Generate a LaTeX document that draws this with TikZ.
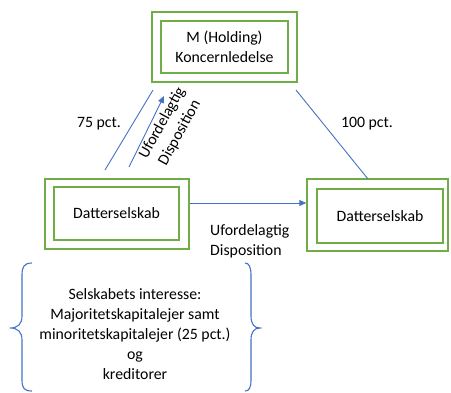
\documentclass[tikz,border=0pt]{standalone}
\usepackage{fontspec}
\setmainfont{Carlito}
\usetikzlibrary{arrows.meta}
\definecolor{boxgreen}{RGB}{112,173,71}
\definecolor{lineblue}{RGB}{68,114,196}
\tikzset{
  gbox/.style={draw=boxgreen, line width=1.4pt, inner sep=0pt, align=center},
  conn/.style={draw=lineblue, line width=0.9pt},
  arr/.style={conn, -{Triangle[length=7pt,width=6pt]}},
  lbl/.style={inner sep=0pt, align=center},
  bracestyle/.style={draw=lineblue, line width=1.1pt}
}
\begin{document}
\begin{tikzpicture}[x=1pt,y=-1pt,font=\fontsize{15.8}{20}\selectfont]
\useasboundingbox (0,0) rectangle (451,392);
% boxes
\node[gbox, minimum width=145pt, minimum height=70pt] (mo) at (224.5,47) {};
\node[gbox, minimum width=127pt, minimum height=52pt] (mi) at (224.5,47) {M (Holding)\\Koncernledelse};
\node[gbox, minimum width=144pt, minimum height=70pt] (lo) at (117,214) {};
\node[gbox, minimum width=125pt, minimum height=53pt] (li) at (116.5,213.5) {Datterselskab};
\node[gbox, minimum width=141pt, minimum height=72pt] (ro) at (377.5,215) {};
\node[gbox, minimum width=126pt, minimum height=54pt] (ri) at (380,216) {Datterselskab};
% connector end points
\coordinate (a1) at (105,170);
\coordinate (a2) at (153,90);
\coordinate (b1) at (129,167);
\coordinate (b2) at (164,96);
\coordinate (c1) at (296,90);
\coordinate (c2) at (368,179);
% connectors
\draw[conn] (a1) -- (a2);
\draw[arr] (b1) -- (b2);
\draw[conn] (c1) -- (c2);
\draw[arr] (lo.east |- 0,203) -- (ro.west |- 0,203);
% labels
\node[lbl] (p75) at (99,124) {75 pct.};
\node[lbl] (p100) at (367,124) {100 pct.};
\node[lbl, rotate=61] (ud1) at (171,128) {Ufordelagtig\\Disposition};
\node[lbl, align=left, anchor=west] (ud2) at (210,241) {Ufordelagtig\\Disposition};
% brace text
\node[lbl] (txt) at (135,334) {Selskabets interesse:\\Majoritetskapitalejer samt\\minoritetskapitalejer (25 pct.)\\og\\kreditorer};
% braces
\draw[bracestyle] (32,263) .. controls (24,263) and (22,267) .. (22,275)
  -- (22,316) .. controls (22,324) and (18,328) .. (10,328)
  .. controls (18,328) and (22,332) .. (22,340)
  -- (22,380) .. controls (22,388) and (24,391) .. (32,391);
\draw[bracestyle] (245,263) .. controls (249,263) and (251,267) .. (251,275)
  -- (251,316) .. controls (251,324) and (254,328) .. (260,328)
  .. controls (254,328) and (251,332) .. (251,340)
  -- (251,380) .. controls (251,388) and (249,391) .. (245,391);
\end{tikzpicture}
\end{document}
